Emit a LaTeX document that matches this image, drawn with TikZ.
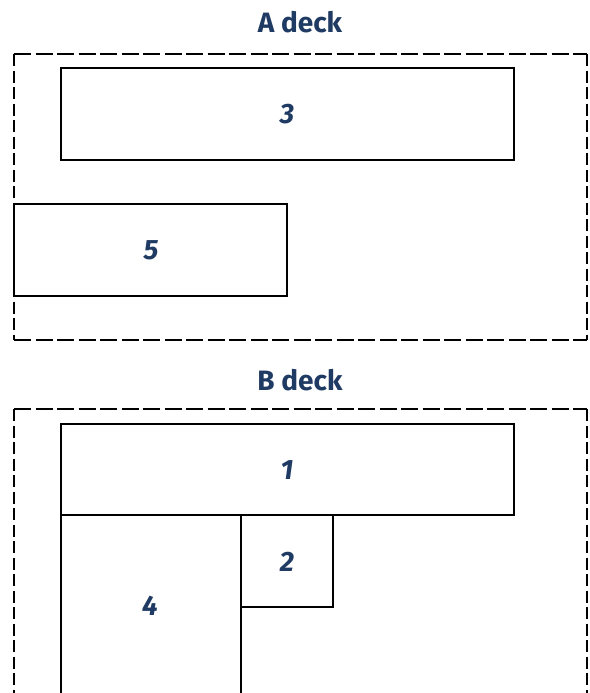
\documentclass[tikz,border=0pt]{standalone}
\usepackage{fontspec}
\setmainfont{Fira Sans}
\definecolor{navy}{HTML}{1F3B63}
\tikzset{
  deckh/.style={draw=black, line width=2pt, dash pattern=on 17pt off 4.5pt},
  deckv/.style={draw=black, line width=2pt, dash pattern=on 12pt off 4.5pt},
  room/.style={draw=black, line width=1.6pt},
  lbl/.style={text=navy, font=\fontsize{28}{30}\selectfont\bfseries\itshape, inner sep=0pt},
  ttl/.style={text=navy, font=\fontsize{28}{30}\selectfont\bfseries, inner sep=0pt},
}
\begin{document}
\begin{tikzpicture}[x=1pt,y=-1pt]
\useasboundingbox (0,0) rectangle (589,693);
\clip (0,0) rectangle (589,693);
% A deck
\node[ttl] (tA) at (300,22) {A deck};
\coordinate (a1) at (14,54);
\coordinate (a2) at (587,54);
\coordinate (a3) at (587,340);
\coordinate (a4) at (14,340);
\draw[deckh] (a1) -- (a2);
\draw[deckh] (a4) -- (a3);
\draw[deckv] (a1) -- (a4);
\draw[deckv] (a2) -- (a3);
\draw[room] (61,68) rectangle (514,160);
\node[lbl] (r3) at (287,114) {3};
\draw[room] (14,204) rectangle (287,296);
\node[lbl] (r5) at (151,250) {5};
% B deck
\node[ttl] (tB) at (300,380) {B deck};
\coordinate (b1) at (14,409);
\coordinate (b2) at (587,409);
\coordinate (b3) at (587,745);
\coordinate (b4) at (14,745);
\draw[deckh] (b1) -- (b2);
\draw[deckv] (b1) -- (b4);
\draw[deckv] (b2) -- (b3);
\draw[room] (61,424) rectangle (514,515);
\node[lbl] (r1) at (287,470) {1};
\draw[room] (241,515) rectangle (333,607);
\node[lbl] (r2) at (287,562) {2};
\draw[room] (61,515) rectangle (241,699);
\node[lbl] (r4) at (150,606) {4};
\end{tikzpicture}
\end{document}
